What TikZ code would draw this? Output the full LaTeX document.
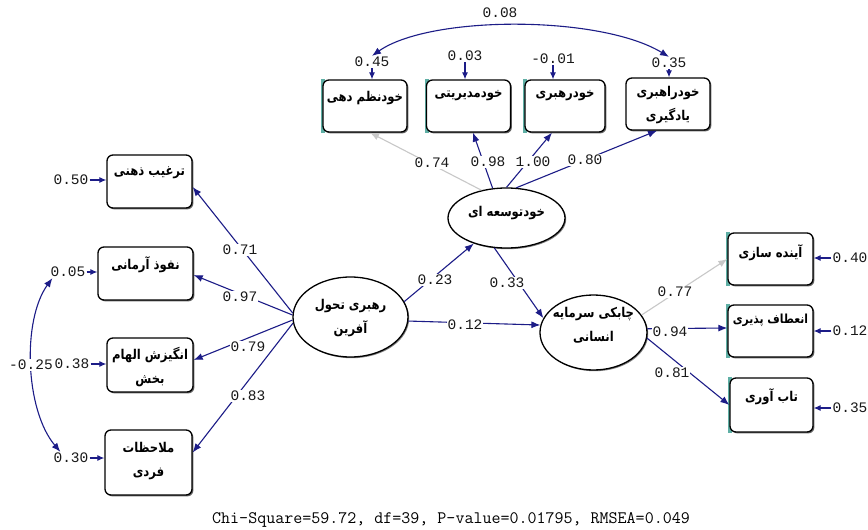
\documentclass[tikz,border=0pt]{standalone}
\usepackage{fontspec}
\TeXXeTstate=1
\newfontfamily\arabicfont[Script=Arabic, FakeStretch=0.86]{DejaVu Sans}
\newfontfamily\numfont{Liberation Mono}
\usetikzlibrary{arrows.meta,shapes.geometric,shadows}
\definecolor{navy}{RGB}{28,28,135}
\definecolor{lgray}{RGB}{200,200,200}
\definecolor{tealstrip}{RGB}{95,175,165}
\pgfdeclarelayer{bg}
\pgfdeclarelayer{mid}
\pgfsetlayers{bg,mid,main}
\begin{document}
\begin{tikzpicture}[x=1pt,y=-1pt,
  box/.style={draw=black, line width=1.3pt, fill=white, rounded corners=6pt, inner sep=0pt,
    minimum width=84pt, minimum height=52pt,
    drop shadow={shadow xshift=1.4pt, shadow yshift=-1.4pt, opacity=0.6, fill=black}},
  lv/.style={ellipse, draw=black, line width=1.3pt, fill=white, inner sep=0pt,
    drop shadow={shadow xshift=1.2pt, shadow yshift=-1.2pt, opacity=0.5, fill=black}},
  ar/.style={font=\arabicfont\bfseries\fontsize{13.5}{24}\selectfont, align=center, inner sep=0pt},
  num/.style={font=\numfont\fontsize{14.5}{16}\selectfont, fill=white, inner sep=1pt, text=black!90},
  pth/.style={draw=navy, line width=1.1pt, -{Latex[length=9pt,width=7pt]}},
  gpth/.style={pth, draw=lgray},
  err/.style={draw=navy, line width=1.1pt, -{Latex[length=7pt,width=6pt]}},
  cov/.style={draw=navy, line width=1.1pt, {Latex[length=9pt,width=7pt]}-{Latex[length=9pt,width=7pt]}}
]
\begin{pgfonlayer}{bg}
\fill[white] (0,0) rectangle (868,530);
\end{pgfonlayer}
\useasboundingbox (0,0) rectangle (868,530);

% ---- top indicator boxes
\node[box] (b1) at (365,106) {};
\node[box] (b2) at (468.5,106) {};
\node[box, minimum width=80pt] (b3) at (565,106) {};
\node[box] (b4) at (668,104) {};
\node[ar] (tb1) at (365,98) {\beginR خودنظم دهی\endR};
\node[ar] (tb2) at (468.5,96) {\beginR خودمدیریتی\endR};
\node[ar] (tb3) at (565,96) {\beginR خودرهبری\endR};
\node[ar] (tb4) at (668,105) {\beginR خودراهبری\endR\\\beginR یادگیری\endR};

% ---- left indicator boxes
\node[box, minimum width=85pt, minimum height=53pt] (L1) at (149.5,181.5) {};
\node[box, minimum width=95pt, minimum height=53pt] (L2) at (145.5,273.5) {};
\node[box, minimum width=86pt, minimum height=54pt] (L3) at (150,365) {};
\node[box, minimum width=87pt, minimum height=65pt] (L4) at (148.5,462.5) {};
\node[ar] (tl1) at (149.5,173) {\beginR ترغیب ذهنی\endR};
\node[ar] (tl2) at (145.5,265) {\beginR نفوذ آرمانی\endR};
\node[ar] (tl3) at (150,367) {\beginR انگیزش الهام\endR\\\beginR بخش\endR};
\node[ar] (tl4) at (148.5,461) {\beginR ملاحظات\endR\\\beginR فردی\endR};

% ---- right indicator boxes
\node[box, minimum width=85pt] (R1) at (770.5,259) {};
\node[box, minimum width=85pt] (R2) at (770.5,331) {};
\node[box, minimum width=83pt, minimum height=54pt] (R3) at (771.5,405) {};
\node[ar] (tr1) at (770.5,253) {\beginR آینده سازی\endR};
\node[ar, font=\arabicfont\bfseries\fontsize{12.5}{24}\selectfont] (tr2) at (770.5,320) {\beginR انعطاف پذیری\endR};
\node[ar] (tr3) at (771.5,397) {\beginR تاب آوری\endR};

% teal strips
\begin{pgfonlayer}{mid}
\foreach \b in {b1,b2,b3,R1,R2,R3}{
  \fill[tealstrip] ([xshift=-1.2pt]\b.north west) rectangle ([xshift=3pt]\b.south west);
}
\end{pgfonlayer}

% ---- latent variables
\node[lv, minimum width=117pt, minimum height=60pt] (E) at (506.5,218) {};
\node[lv, minimum width=115pt, minimum height=80pt] (RL) at (350.5,317) {};
\node[lv, minimum width=107pt, minimum height=75pt] (C) at (593.5,332.5) {};
\node[ar] (tE) at (506.5,213) {\beginR خودتوسعه ای\endR};
\node[ar] (tRL) at (350.5,318.5) {\beginR رهبری تحول\endR\\\beginR آفرین\endR};
\node[ar] (tC) at (593.5,325) {\beginR چابکی سرمایه\endR\\\beginR انسانی\endR};

% ---- structural paths
\draw[gpth] (E.132) -- ([xshift=5pt]b1.south);
\draw[pth] (E.115) -- ([xshift=4.5pt]b2.south);
\draw[pth] (E.90) -- ([xshift=-13pt]b3.south);
\draw[pth] (E.72) -- ([xshift=-11pt]b4.south);

\draw[pth] (RL.176) -- ([yshift=-5.5pt]L1.east);
\draw[pth] (RL.178) -- ([yshift=-1.5pt]L2.east);
\draw[pth] (RL.183) -- ([yshift=5pt]L3.east);
\draw[pth] (RL.186) -- ([yshift=10pt]L4.east);

\draw[pth] (RL.16) -- (E.218);
\draw[pth] (RL.356) -- (C.172);
\draw[pth] (E.248) -- (C.164);

\draw[gpth] (C.20) -- (R1.west);
\draw[pth] (C.4) -- ([yshift=3pt]R2.west);
\draw[pth] (C.-6) -- (R3.west);

% ---- path labels
\node[num] (l74) at (432,163) {0.74};
\node[num] (l98) at (488,162) {0.98};
\node[num] (l100) at (533,162) {1.00};
\node[num] (l80) at (585,160) {0.80};
\node[num] (l71) at (240,250) {0.71};
\node[num] (l97) at (240,297) {0.97};
\node[num] (l79) at (248,347) {0.79};
\node[num] (l83) at (248,396) {0.83};
\node[num] (l23) at (435,280) {0.23};
\node[num] (l12) at (465,325) {0.12};
\node[num] (l33) at (507,283) {0.33};
\node[num] (l77) at (675,292) {0.77};
\node[num] (l94) at (670,332) {0.94};
\node[num] (l81) at (672,373) {0.81};

% ---- error terms
\node[num] (e45) at (372,62) {0.45};
\node[num] (e03) at (465,56) {0.03};
\node[num] (e01) at (553,59) {-0.01};
\node[num] (e35) at (669,63) {0.35};
\draw[err] (e45.south) -- (e45.south |- b1.north);
\draw[err] (e03.south) -- (e03.south |- b2.north);
\draw[err] (e01.south) -- (e01.south |- b3.north);
\draw[err] (e35.south) -- (e35.south |- b4.north);

\node[num] (e50) at (71,180) {0.50};
\node[num] (e05) at (68,272) {0.05};
\node[num] (e38) at (72,364) {0.38};
\node[num] (e30) at (71,458) {0.30};
\draw[err] (e50.east) -- (e50.east -| L1.west);
\draw[err] (e05.east) -- (e05.east -| L2.west);
\draw[err] (e38.east) -- (e38.east -| L3.west);
\draw[err] (e30.east) -- (e30.east -| L4.west);

\node[num] (e40) at (850,258) {0.40};
\node[num] (e12) at (850,331) {0.12};
\node[num] (e35r) at (850,408) {0.35};
\draw[err] (e40.west) -- (e40.west -| R1.east);
\draw[err] (e12.west) -- (e12.west -| R2.east);
\draw[err] (e35r.west) -- (e35r.west -| R3.east);

% ---- covariances
\draw[cov] (e45.north) .. controls (430,15) and (600,15) .. (e35.north);
\node[num] (c08) at (500,13) {0.08};
\draw[cov] ([xshift=3pt]e05.south west) .. controls (22,320) and (25,410) .. ([xshift=8pt]e30.north west);
\node[num] (c25) at (31,365) {-0.25};

% ---- fit statistics
\node[font=\ttfamily\fontsize{17.5}{18}\selectfont, inner sep=0pt] (fit) at (451,520) {Chi-Square=59.72, df=39, P-value=0.01795, RMSEA=0.049};
\end{tikzpicture}
\end{document}
